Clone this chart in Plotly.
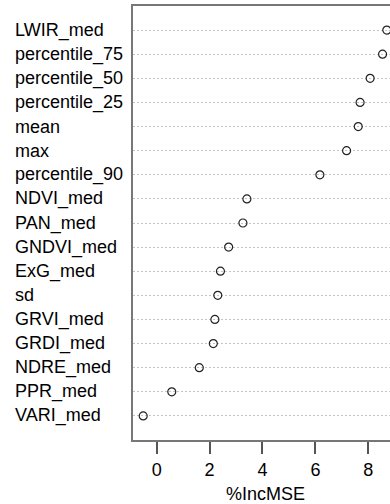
import plotly.graph_objects as go

# Variable importance (%IncMSE), listed from top row to bottom row
variables = ["LWIR_med", "percentile_75", "percentile_50", "percentile_25", "mean",
             "max", "percentile_90", "NDVI_med", "PAN_med", "GNDVI_med", "ExG_med",
             "sd", "GRVI_med", "GRDI_med", "NDRE_med", "PPR_med", "VARI_med"]
inc_mse = [8.70, 8.54, 8.07, 7.69, 7.62, 7.18, 6.17, 3.41, 3.26, 2.72, 2.41,
           2.31, 2.20, 2.14, 1.61, 0.57, -0.51]
x_ticks = [0, 2, 4, 6, 8]

n = len(variables)
rows = [n - i for i in range(n)]  # top row gets the highest position

W, H = 390, 504
L, R, T, B = 133, 0, 6, 64
plot_w = W - L - R
plot_h = H - T - B

fig = go.Figure()
fig.add_trace(go.Scatter(
    x=inc_mse, y=rows, mode="markers",
    marker=dict(symbol="circle-open", size=8, color="#222222", line=dict(width=1.2)),
    hoverinfo="skip", showlegend=False,
))

font_family = "Liberation Sans, Arial, sans-serif"
text_color = "#000000"

# Row labels, left aligned
for name, r in zip(variables, rows):
    fig.add_annotation(
        x=(13.3 - L) / plot_w, xref="paper", y=r, yref="y",
        text=name, showarrow=False, xanchor="left", yanchor="middle",
        font=dict(family=font_family, size=18, color=text_color),
    )

# X-axis title
fig.add_annotation(
    x=(265.7 - L) / plot_w, xref="paper", y=(T + plot_h - 494) / plot_h,
    yref="paper", text="%IncMSE", showarrow=False, xanchor="center", yanchor="middle",
    font=dict(family=font_family, size=18, color=text_color),
)

fig.update_xaxes(
    range=[-0.896, 8.821], tickvals=x_ticks, ticks="outside", ticklen=12,
    tickwidth=1.5, tickcolor="#555555", showgrid=False, zeroline=False,
    showline=True, linecolor="#777777", linewidth=2, mirror=True,
    tickfont=dict(family=font_family, size=18, color=text_color),
    ticklabelstandoff=0,
)
fig.update_yaxes(
    range=[0, n + 1], tickvals=rows, showticklabels=False, ticks="",
    showgrid=True, gridcolor="#c4c4c4", griddash="2px,2px", gridwidth=1,
    zeroline=False, showline=True, linecolor="#777777", linewidth=2,
)

fig.update_layout(
    width=W, height=H, margin=dict(l=L, r=R, t=T, b=B, pad=0),
    paper_bgcolor="white", plot_bgcolor="white",
    font=dict(family=font_family),
)

fig.write_html("out.html")
